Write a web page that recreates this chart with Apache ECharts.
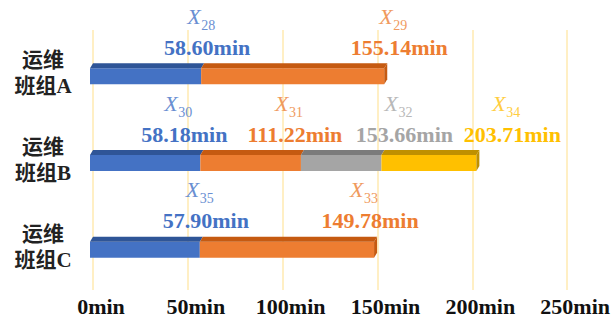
<!DOCTYPE html>
<html>
<head>
<meta charset="utf-8">
<script src="https://cdn.jsdelivr.net/npm/echarts@6/dist/echarts.min.js"></script>
<style>
html, body { margin: 0; padding: 0; background: #fff; }
#chart { width: 613px; height: 324px; }
</style>
</head>
<body>
<div id="chart"></div>
<script>
// Teams (rows, top to bottom)
const teams = ['运维\n班组A', '运维\n班组B', '运维\n班组C'];

// Cumulative finish time of each task, per team (min)
const endsA = [58.60, 155.14];
const endsB = [58.18, 111.22, 153.66, 203.71];
const endsC = [57.90, 149.78];

// Task subscripts shown as X_n above each finish time
const tagsA = ['28', '29'];
const tagsB = ['30', '31', '32', '34'];
const tagsC = ['35', '33'];

// Axis ticks (min)
const xTicks = [0, 50, 100, 150, 200, 250];

// Horizontal nudges (px) of each annotation so neighbours don't collide
const nudgeA = [3, 12];
const nudgeB = [-19, -9, 20, 33];
const nudgeC = [3, -7];

// Face / top / side colours by task order within a row
const faceColors = ['#4472C4', '#ED7D31', '#A5A5A5', '#FFC000'];
const topColors  = ['#2F5597', '#C55A11', '#7B7B7B', '#BF9000'];
const textColors = ['#4472C4', '#ED7D31', '#A5A5A5', '#FFC000'];
const tagColors  = ['#6A8FD2', '#F09A5E', '#B8B8B8', '#FFCD40'];

const SERIF = '"Liberation Serif", "Times New Roman", "Noto Sans CJK SC", serif';

// Build one segment per task: [row, start, end]
const rows = [
  { ends: endsA, tags: tagsA, nudge: nudgeA },
  { ends: endsB, tags: tagsB, nudge: nudgeB },
  { ends: endsC, tags: tagsC, nudge: nudgeC }
];
const segments = [];
const segMeta = [];
rows.forEach((r, ri) => {
  let prev = 0;
  r.ends.forEach((e, k) => {
    segments.push([ri, prev, e]);
    segMeta.push({ k: k, last: k === r.ends.length - 1, tag: r.tags[k], nudge: r.nudge[k], end: e });
    prev = e;
  });
});

const DX = 3;   // depth offset to the right
const DY = 5;   // depth offset upwards
const FRONT_H = 16;

function renderSegment(params, api) {
  const meta = segMeta[params.dataIndex];
  const row = api.value(0);
  const p0 = api.coord([api.value(1), row]);
  const p1 = api.coord([api.value(2), row]);
  const cy = p0[1];
  const fTop = cy - 5;
  const fBot = fTop + FRONT_H;
  const xs = p0[0] - DX, xe = p1[0] - DX;
  const face = faceColors[meta.k], top = topColors[meta.k];
  const children = [
    { type: 'rect', shape: { x: xs, y: fTop, width: xe - xs, height: FRONT_H }, style: { fill: face } },
    { type: 'polygon', shape: { points: [[xs, fTop], [xe, fTop], [xe + DX, fTop - DY], [xs + DX, fTop - DY]] }, style: { fill: top } }
  ];
  if (meta.last) {
    children.push({ type: 'polygon', shape: { points: [[xe, fTop], [xe + DX, fTop - DY], [xe + DX, fBot - DY], [xe, fBot]] }, style: { fill: top } });
  }
  const lx = p1[0] + meta.nudge;
  // finish time
  children.push({
    type: 'text', x: lx, y: cy - 26,
    style: {
      text: meta.end.toFixed(2) + 'min', align: 'center', verticalAlign: 'middle',
      fontFamily: SERIF, fontWeight: 'bold', fontSize: 22, fill: textColors[meta.k]
    }
  });
  // task name X with subscript
  const gx = lx - 6 - 14;
  children.push({
    type: 'text', x: gx, y: cy - 57,
    style: {
      text: 'X', align: 'left', verticalAlign: 'middle',
      fontFamily: SERIF, fontStyle: 'italic', fontSize: 22, fill: tagColors[meta.k]
    }
  });
  children.push({
    type: 'text', x: gx + 14, y: cy - 48,
    style: {
      text: meta.tag, align: 'left', verticalAlign: 'middle',
      fontFamily: SERIF, fontSize: 14, fill: tagColors[meta.k]
    }
  });
  return { type: 'group', children: children };
}

const chart = echarts.init(document.getElementById('chart'), null, { renderer: 'svg' });
chart.setOption({
  animation: false,
  backgroundColor: '#ffffff',
  grid: { left: 93, right: 43, top: 30, bottom: 34, containLabel: false },
  xAxis: {
    type: 'value',
    min: xTicks[0],
    max: xTicks[xTicks.length - 1],
    interval: xTicks[1] - xTicks[0],
    axisLine: { show: false },
    axisTick: { show: false },
    splitLine: { show: true, showMinLine: true, showMaxLine: true, lineStyle: { color: '#FFEFC4', width: 2 } },
    axisLabel: {
      formatter: '{value}min',
      fontFamily: SERIF, fontWeight: 'bold', fontSize: 22, color: '#111',
      margin: 5, padding: [0, 0, 0, 16]
    }
  },
  yAxis: {
    type: 'category',
    data: teams,
    inverse: true,
    axisLine: { show: false },
    axisTick: { show: false },
    splitLine: { show: false },
    axisLabel: {
      fontFamily: SERIF, fontWeight: 'bold', fontSize: 21, color: '#222',
      align: 'center', margin: 50, lineHeight: 26
    }
  },
  series: [{
    type: 'custom',
    renderItem: renderSegment,
    encode: { x: [1, 2], y: 0 },
    data: segments,
    clip: false
  }]
});
</script>
</body>
</html>
